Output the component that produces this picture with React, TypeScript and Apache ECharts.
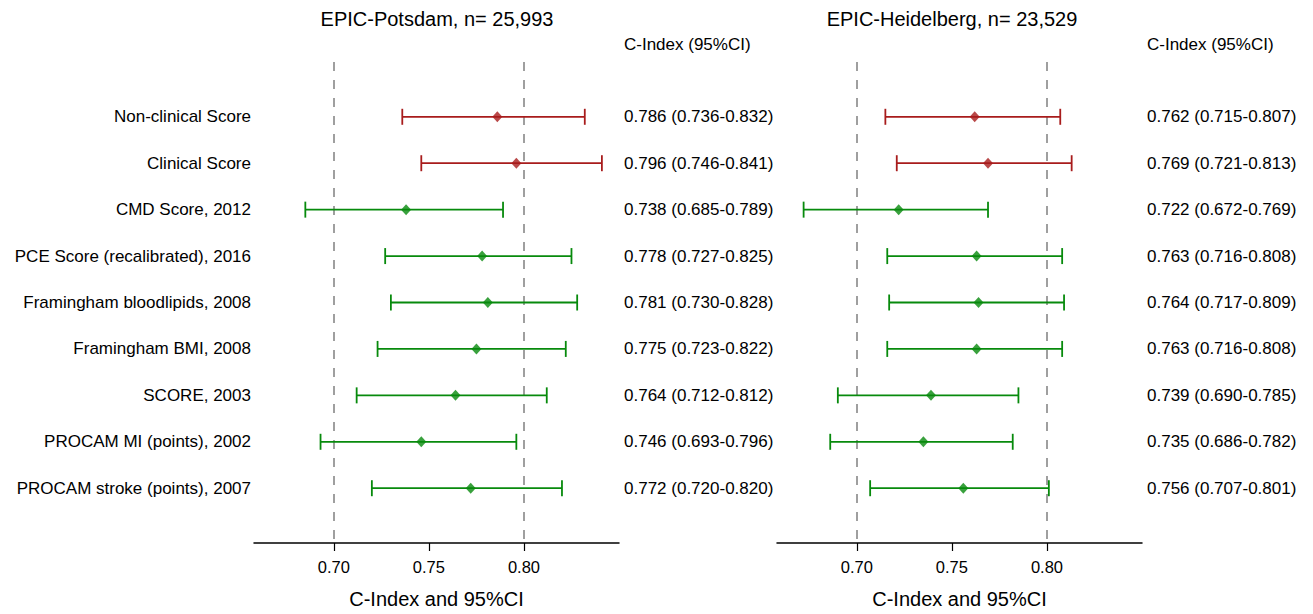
import React, { useEffect, useRef } from "react";
import * as echarts from "echarts";

const models = [
  "Non-clinical Score",
  "Clinical Score",
  "CMD Score, 2012",
  "PCE Score (recalibrated), 2016",
  "Framingham bloodlipids, 2008",
  "Framingham BMI, 2008",
  "SCORE, 2003",
  "PROCAM MI (points), 2002",
  "PROCAM stroke (points), 2007",
];
const modelGroup = ["new", "new", "existing", "existing", "existing", "existing", "existing", "existing", "existing"];

const potsdamEst = [0.786, 0.796, 0.738, 0.778, 0.781, 0.775, 0.764, 0.746, 0.772];
const potsdamLo = [0.736, 0.746, 0.685, 0.727, 0.73, 0.723, 0.712, 0.693, 0.72];
const potsdamHi = [0.832, 0.841, 0.789, 0.825, 0.828, 0.822, 0.812, 0.796, 0.82];

const heidelbergEst = [0.762, 0.769, 0.722, 0.763, 0.764, 0.763, 0.739, 0.735, 0.756];
const heidelbergLo = [0.715, 0.721, 0.672, 0.716, 0.717, 0.716, 0.69, 0.686, 0.707];
const heidelbergHi = [0.807, 0.813, 0.769, 0.808, 0.809, 0.808, 0.785, 0.782, 0.801];

const cohortTitles = ["EPIC-Potsdam, n= 25,993", "EPIC-Heidelberg, n= 23,529"];
const refLines = [0.7, 0.8];
const xTicks = [0.7, 0.75, 0.8];
const headerText = "C-Index (95%CI)";
const xAxisName = "C-Index and 95%CI";

const FONT = "'Liberation Sans', Arial, Helvetica, sans-serif";
const groupColor: Record<string, string> = { new: "#a81c1c", existing: "#078a0c" };

const fmt = (v: number) => v.toFixed(3);

function buildOption() {
  const panels = [
    { est: potsdamEst, lo: potsdamLo, hi: potsdamHi, showNames: true },
    { est: heidelbergEst, lo: heidelbergLo, hi: heidelbergHi, showNames: false },
  ];
  const grids = [
    { left: 254, width: 365, top: 62, height: 483 },
    { left: 777, width: 365, top: 62, height: 483 },
  ];
  const xAxes = grids.map((_, gi) => ({
    type: "value",
    gridIndex: gi,
    min: 0.658,
    max: 0.85,
    name: xAxisName,
    nameLocation: "middle",
    nameGap: 46,
    nameTextStyle: { fontSize: 20, color: "#000", fontFamily: FONT },
    axisLine: { show: true, onZero: false, lineStyle: { color: "#000", width: 1.5 } },
    axisTick: { show: true, length: 8, customValues: xTicks, lineStyle: { color: "#000", width: 1.2 } },
    axisLabel: {
      show: true,
      customValues: xTicks,
      margin: 15,
      fontSize: 16.5,
      color: "#000",
      fontFamily: FONT,
      formatter: (v: number) => v.toFixed(2),
    },
    splitLine: { show: false },
  }));
  const yAxes = grids.map((_, gi) => ({
    type: "value",
    gridIndex: gi,
    min: -1.18,
    max: 9.18,
    inverse: true,
    show: false,
  }));

  const series: any[] = [];
  panels.forEach((p, pi) => {
    const data = models.map((name, i) => [i, p.lo[i], p.hi[i], p.est[i]]);
    series.push({
      type: "custom",
      xAxisIndex: pi,
      yAxisIndex: pi,
      clip: false,
      silent: true,
      data,
      renderItem: (params: any, api: any) => {
        const i = api.value(0);
        const lo = api.value(1);
        const hi = api.value(2);
        const est = api.value(3);
        const a = api.coord([lo, i]);
        const b = api.coord([hi, i]);
        const color = groupColor[modelGroup[i]];
        const cs = params.coordSys;
        const cap = 8;
        const lw = 1.8;
        const children: any[] = [
          { type: "line", shape: { x1: a[0], y1: a[1], x2: b[0], y2: b[1] }, style: { stroke: color, lineWidth: lw } },
          { type: "line", shape: { x1: a[0], y1: a[1] - cap, x2: a[0], y2: a[1] + cap }, style: { stroke: color, lineWidth: lw } },
          { type: "line", shape: { x1: b[0], y1: b[1] - cap, x2: b[0], y2: b[1] + cap }, style: { stroke: color, lineWidth: lw } },
          {
            type: "text",
            x: cs.x + cs.width + 5,
            y: a[1],
            style: {
              text: `${fmt(est)} (${fmt(lo)}-${fmt(hi)})`,
              fontSize: 17,
              fontFamily: FONT,
              fill: "#000",
              align: "left",
              verticalAlign: "middle",
            },
          },
        ];
        if (p.showNames) {
          children.push({
            type: "text",
            x: cs.x - 3,
            y: a[1],
            style: {
              text: models[i],
              fontSize: 17,
              fontFamily: FONT,
              fill: "#000",
              align: "right",
              verticalAlign: "middle",
            },
          });
        }
        return { type: "group", children };
      },
      z: 3,
    });
    series.push({
      type: "scatter",
      xAxisIndex: pi,
      yAxisIndex: pi,
      symbol: "diamond",
      symbolSize: [10, 11],
      silent: true,
      z: 4,
      data: models.map((_, i) => ({
        value: [p.est[i], i],
        itemStyle: { color: groupColor[modelGroup[i]] },
      })),
      markLine: {
        silent: true,
        symbol: ["none", "none"],
        label: { show: false },
        lineStyle: { color: "#808080", type: [9, 9], width: 1.5 },
        data: refLines.map((v) => ({ xAxis: v })),
        z: 1,
      },
    });
  });

  const titleX = [437, 952];
  const headerX = [624, 1147];
  const graphic: any[] = [];
  cohortTitles.forEach((t, i) => {
    graphic.push({
      type: "text",
      x: titleX[i],
      y: 19,
      style: { text: t, fontSize: 20, fontFamily: FONT, fill: "#000", align: "center", verticalAlign: "middle" },
    });
    graphic.push({
      type: "text",
      x: headerX[i],
      y: 44,
      style: { text: headerText, fontSize: 17, fontFamily: FONT, fill: "#000", align: "left", verticalAlign: "middle" },
    });
  });

  return {
    animation: false,
    backgroundColor: "#fff",
    grid: grids,
    xAxis: xAxes,
    yAxis: yAxes,
    series,
    graphic,
  };
}

export default function App() {
  const ref = useRef<HTMLDivElement>(null);
  useEffect(() => {
    if (!ref.current) return;
    const chart = echarts.init(ref.current, undefined, { renderer: "svg" });
    chart.setOption(buildOption() as any);
    return () => chart.dispose();
  }, []);
  return <div ref={ref} style={{ width: 1313, height: 614, position: "absolute", left: 0, top: 0 }} />;
}
